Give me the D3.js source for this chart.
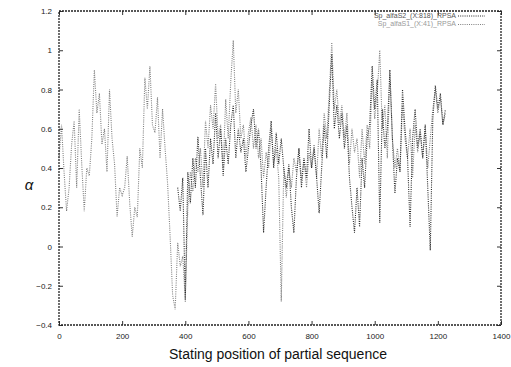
<!DOCTYPE html>
<html>
<head>
<meta charset="utf-8">
<script src="https://cdn.jsdelivr.net/npm/d3@7"></script>
<style>
  body { margin: 0; background: #fff; }
  svg { font-family: "Liberation Sans", Arial, sans-serif; }
</style>
</head>
<body>
<svg id="chart" width="511" height="367"></svg>
<script>
// series: alpha values of the RPSA profile, sampled every 8 positions
const lightStart = 0;
const lightValues = [
  0.45, 0.62, 0.38, 0.18, 0.3, 0.52, 0.64, 0.3, 0.7, 0.42, 0.18, 0.4, 0.36, 0.55, 0.9, 0.68,
  0.78, 0.52, 0.6, 0.38, 0.8, 0.55, 0.42, 0.15, 0.3, 0.26, 0.3, 0.46, 0.22, 0.05, 0.2, 0.15,
  0.5, 0.4, 0.86, 0.7, 0.92, 0.62, 0.58, 0.76, 0.45, 0.7, 0.5, 0.32, 0.05, -0.25, -0.32, 0.02,
  -0.1, -0.05, -0.27, 0.2, 0.38, 0.28, 0.45, 0.38, 0.5, 0.3, 0.64, 0.5, 0.72, 0.6, 0.83, 0.55,
  0.62, 0.4, 0.75, 0.55, 0.84, 1.05, 0.68, 0.8, 0.55, 0.62, 0.45, 0.58, 0.66, 0.5, 0.62, 0.45,
  0.55, 0.35, 0.48, 0.4, 0.6, 0.42, 0.5, 0.35, -0.28, 0.4, 0.25, 0.4, 0.3, 0.45, 0.38, 0.5,
  0.34, 0.45, 0.3, 0.48, 0.4, 0.52, 0.35, 0.6, 0.45, 0.68, 0.55, 0.78, 1.04, 0.7, 0.8, 0.62,
  0.72, 0.55, 0.68, 0.42, 0.6, 0.48, 0.55, 0.35, 0.6, 0.42, 0.62, 0.5, 0.85, 0.65, 0.78, 1.0,
  0.6, 0.72, 0.45, 0.88, 0.55, 0.4, 0.5, 0.38, 0.72, 0.55, 0.45, 0.6, 0.35, 0.62, 0.48, 0.58,
  0.45, 0.62, 0.4, 0.55, 0.7, 0.8, 0.68, 0.76, 0.62, 0.68
];
const darkStart = 376;
const darkValues = [
  0.3, 0.18, 0.35, -0.28, 0.38, 0.22, 0.45, 0.3, 0.56, 0.35, 0.16, 0.5, 0.3, 0.55, 0.42, 0.68,
  0.45, 0.6, 0.36, 0.55, 0.42, 0.62, 0.72, 0.45, 0.6, 0.48, 0.55, 0.38, 0.5, 0.62, 0.7, 0.5,
  0.6, 0.4, 0.07, 0.3, 0.5, 0.64, 0.4, 0.58, 0.42, 0.55, 0.4, 0.3, 0.42, 0.2, 0.07, 0.35,
  0.5, 0.3, 0.45, 0.35, 0.6, 0.4, 0.5, 0.35, 0.17, 0.4, 0.62, 0.45, 0.72, 0.98, 0.6, 0.72,
  0.55, 0.68, 0.5, 0.62, 0.35, 0.2, 0.07, 0.3, 0.1, 0.45, 0.3, 0.55, 0.62, 0.92, 0.7, 0.85,
  0.12, 0.7, 0.5, 0.6, 0.9, 0.55, 0.27, 0.45, 0.38, 0.8, 0.6, 0.45, 0.1, 0.55, 0.7, 0.5,
  0.6, 0.45, 0.62, 0.3, -0.02, 0.65, 0.82, 0.7, 0.78, 0.62, 0.7
];
const step = 8;
const seriesNames = ["Sp_alfaS2_(X:818)_RPSA", "Sp_alfaS1_(X:41)_RPSA"];
const xTicks = [0, 200, 400, 600, 800, 1000, 1200, 1400];
const yTicks = [-0.4, -0.2, 0, 0.2, 0.4, 0.6, 0.8, 1, 1.2];

const margin = {top: 11, right: 10, bottom: 42, left: 59};
const width = 511 - margin.left - margin.right;
const height = 367 - margin.top - margin.bottom;

const svg = d3.select("#chart");
const g = svg.append("g").attr("transform", `translate(${margin.left},${margin.top})`);

const x = d3.scaleLinear().domain([0, 1400]).range([0, width]);
const y = d3.scaleLinear().domain([-0.4, 1.2]).range([height, 0]);

const toPoints = (start, vals) => vals.map((v, i) => ({pos: start + i * step, v}));
const light = toPoints(lightStart, lightValues);
const dark = toPoints(darkStart, darkValues);

const line = d3.line().x(d => x(d.pos)).y(d => y(d.v));

// light series first, dark on top
g.append("path").datum(light)
  .attr("d", line)
  .attr("fill", "none")
  .attr("stroke", "#7f7f7f")
  .attr("stroke-width", 1.1)
  .attr("stroke-dasharray", "1,1.2");

g.append("path").datum(dark)
  .attr("d", line)
  .attr("fill", "none")
  .attr("stroke", "#2a2a2a")
  .attr("stroke-width", 1.1)
  .attr("stroke-dasharray", "1,1.2");

// axes, ticks inward and mirrored
const xAxisB = d3.axisBottom(x).tickValues(xTicks).tickSizeInner(-4).tickSizeOuter(0).tickPadding(8)
  .tickFormat(d3.format("d"));
const xAxisT = d3.axisTop(x).tickValues(xTicks).tickSizeInner(-4).tickSizeOuter(0).tickFormat("");
const yAxisL = d3.axisLeft(y).tickValues(yTicks).tickSizeInner(-4).tickSizeOuter(0).tickPadding(7)
  .tickFormat(d => d3.format("")(+d.toFixed(1)));
const yAxisR = d3.axisRight(y).tickValues(yTicks).tickSizeInner(-4).tickSizeOuter(0).tickFormat("");

const axes = [
  g.append("g").attr("transform", `translate(0,${height})`).call(xAxisB),
  g.append("g").call(xAxisT),
  g.append("g").call(yAxisL),
  g.append("g").attr("transform", `translate(${width},0)`).call(yAxisR)
];
axes.forEach(a => {
  a.select(".domain").remove();
  a.selectAll("line").attr("stroke", "#333");
  a.selectAll("text").attr("fill", "#222").style("font-size", "8px");
});

// frame
g.append("rect")
  .attr("width", width).attr("height", height)
  .attr("fill", "none")
  .attr("stroke", "#222")
  .attr("stroke-width", 1.3)
  .attr("stroke-dasharray", "2,1");

// legend
const legend = g.append("g").attr("transform", `translate(${width - 43},0)`);
seriesNames.forEach((name, i) => {
  const row = legend.append("g").attr("transform", `translate(0,${5 + i * 8.5})`);
  row.append("text")
    .attr("x", -2).attr("y", 0)
    .attr("text-anchor", "end")
    .attr("dominant-baseline", "middle")
    .attr("fill", i === 0 ? "#555" : "#999")
    .style("font-size", "7px")
    .text(name);
  row.append("line")
    .attr("x1", 0).attr("x2", 27)
    .attr("stroke", i === 0 ? "#2a2a2a" : "#7f7f7f")
    .attr("stroke-dasharray", "1,1.2");
});

// axis titles
svg.append("text")
  .attr("x", margin.left + width / 2 - 2)
  .attr("y", 359)
  .attr("text-anchor", "middle")
  .attr("fill", "#111")
  .style("font-size", "14px")
  .text("Stating position of partial sequence");

svg.append("text")
  .attr("x", 29)
  .attr("y", 190)
  .attr("text-anchor", "middle")
  .attr("fill", "#111")
  .style("font-size", "15px")
  .style("font-style", "italic")
  .text("α");
</script>
</body>
</html>
